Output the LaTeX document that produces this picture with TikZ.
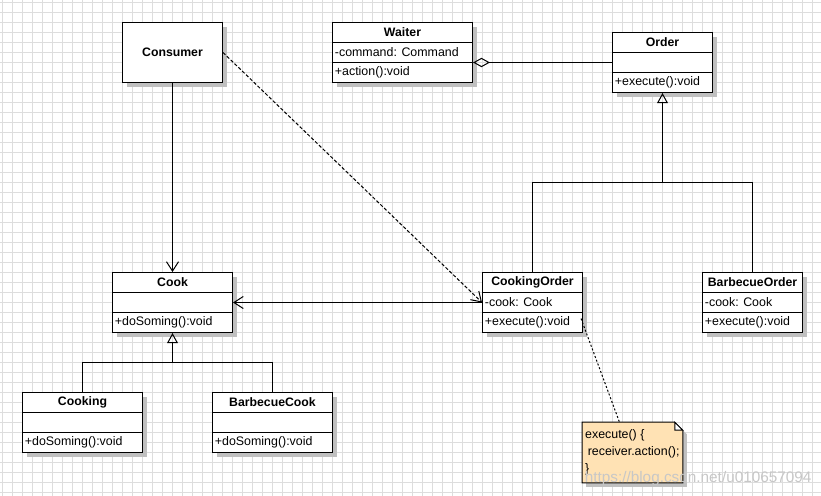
\documentclass[tikz,border=0pt]{standalone}
\usepackage{fontspec}
\setmainfont{Liberation Sans}
\usetikzlibrary{arrows.meta,shadows}
\definecolor{gridgray}{RGB}{221,221,221}
\definecolor{notefill}{RGB}{255,226,180}
\definecolor{shadowgray}{RGB}{192,192,192}

\begin{document}
\begin{tikzpicture}
          [x=0.75pt,y=-0.75pt,
          font=\fontsize{9.3}{11}\selectfont,
          gridline/.style={draw=gridgray,line width=0.75pt},
          cls/.style={draw=black,fill=white,line width=0.75pt,inner sep=0pt,minimum height=45pt,
            drop shadow={shadow xshift=3pt,shadow yshift=-3pt,fill=shadowgray,opacity=1}},
          head/.style={anchor=north,font=\fontsize{9.2}{11}\selectfont\bfseries,minimum height=15pt,inner sep=0pt},
          item/.style={anchor=west,inner sep=0pt,xshift=2pt},
          sep/.style={line width=0.75pt},
          assoc/.style={-{Straight Barb[length=7pt,width=9pt]},line width=0.75pt},
          dep/.style={assoc,dash pattern=on 2.5pt off 1.5pt},
          gen/.style={-{Triangle[open,length=7.5pt,width=8pt]},line width=0.75pt},
          aggr/.style={{Diamond[open,length=12.75pt,width=7pt]}-,line width=0.75pt},
          notebox/.style={fill=notefill,draw=black,line width=0.75pt,
            drop shadow={shadow xshift=3pt,shadow yshift=-3pt,fill=shadowgray,opacity=1}},
          notelink/.style={line width=0.75pt,dash pattern=on 1.5pt off 1.5pt}]

            % background and grid
            \useasboundingbox (-0.5,-0.5) rectangle (820.5,495.5);
            \fill [white] (-0.5,-0.5) rectangle (820.5,495.5);
            \foreach \gx in {2,12,...,822} \draw [gridline] (\gx,-0.5) -- (\gx,495.5);
            \foreach \gy in {2,12,...,492} \draw [gridline] (-0.5,\gy) -- (820.5,\gy);

            \node (consumer) [cls,minimum width=75pt,font=\fontsize{9.2}{11}\selectfont\bfseries] at (172,52) {Consumer};

            \node (waiter) [cls,minimum width=105pt] at (402,52) {};
            \node [head] at (waiter.north) {Waiter};
            \draw [sep] ([yshift=7.5pt]waiter.west) -- ([yshift=7.5pt]waiter.east);
            \draw [sep] ([yshift=-7.5pt]waiter.west) -- ([yshift=-7.5pt]waiter.east);
            \node [item] at (waiter.west) {-command: Command};
            \node [item] at ([yshift=-15pt]waiter.west) {+action():void};

            \node (order) [cls,minimum width=75pt] at (662,62) {};
            \node [head] at (order.north) {Order};
            \draw [sep] ([yshift=7.5pt]order.west) -- ([yshift=7.5pt]order.east);
            \draw [sep] ([yshift=-7.5pt]order.west) -- ([yshift=-7.5pt]order.east);
            \node [item] at ([yshift=-15pt]order.west) {+execute():void};

            \node (cook) [cls,minimum width=90pt] at (172,302) {};
            \node [head] at (cook.north) {Cook};
            \draw [sep] ([yshift=7.5pt]cook.west) -- ([yshift=7.5pt]cook.east);
            \draw [sep] ([yshift=-7.5pt]cook.west) -- ([yshift=-7.5pt]cook.east);
            \node [item] at ([yshift=-15pt]cook.west) {+doSoming():void};

            \node (cookingorder) [cls,minimum width=75pt] at (532,302) {};
            \node [head] at (cookingorder.north) {CookingOrder};
            \draw [sep] ([yshift=7.5pt]cookingorder.west) -- ([yshift=7.5pt]cookingorder.east);
            \draw [sep] ([yshift=-7.5pt]cookingorder.west) -- ([yshift=-7.5pt]cookingorder.east);
            \node [item] at (cookingorder.west) {-cook: Cook};
            \node [item] at ([yshift=-15pt]cookingorder.west) {+execute():void};

            \node (barbecueorder) [cls,minimum width=75pt] at (752,302) {};
            \node [head] at (barbecueorder.north) {BarbecueOrder};
            \draw [sep] ([yshift=7.5pt]barbecueorder.west) -- ([yshift=7.5pt]barbecueorder.east);
            \draw [sep] ([yshift=-7.5pt]barbecueorder.west) -- ([yshift=-7.5pt]barbecueorder.east);
            \node [item] at (barbecueorder.west) {-cook: Cook};
            \node [item] at ([yshift=-15pt]barbecueorder.west) {+execute():void};

            \node (cooking) [cls,minimum width=90pt] at (82,422) {};
            \node [head] at (cooking.north) {Cooking};
            \draw [sep] ([yshift=7.5pt]cooking.west) -- ([yshift=7.5pt]cooking.east);
            \draw [sep] ([yshift=-7.5pt]cooking.west) -- ([yshift=-7.5pt]cooking.east);
            \node [item] at ([yshift=-15pt]cooking.west) {+doSoming():void};

            \node (barbecuecook) [cls,minimum width=90pt] at (272,422) {};
            \node [head] at (barbecuecook.north) {BarbecueCook};
            \draw [sep] ([yshift=7.5pt]barbecuecook.west) -- ([yshift=7.5pt]barbecuecook.east);
            \draw [sep] ([yshift=-7.5pt]barbecuecook.west) -- ([yshift=-7.5pt]barbecuecook.east);
            \node [item] at ([yshift=-15pt]barbecuecook.west) {+doSoming():void};

            % note
            \node (note) [minimum width=75pt,minimum height=45pt,inner sep=0pt] at (632,452) {};
            \filldraw [notebox] (note.north west) -- ([xshift=-6pt]note.north east)
              -- ([yshift=-6pt]note.north east) -- (note.south east) -- (note.south west) -- cycle;
            \filldraw [fill=white,sep] ([xshift=-6pt]note.north east) -- ([xshift=-6pt,yshift=-6pt]note.north east)
              -- ([yshift=-6pt]note.north east) -- cycle;
            \node [item,align=left,font=\fontsize{9.3}{12.75}\selectfont] at (note.west)
              {execute() \{\\\hspace{2pt}receiver.action();\\\}};

          \coordinate (ordersplit) at (662,182);
          \coordinate (cooksplit) at (172,362);

            \draw [assoc] (consumer) -- (cook);
            \draw [dep] (consumer.east) -- (cookingorder.west);
            \draw [assoc] (cookingorder.west) -- (cook.east);
            \draw [aggr] (waiter.east |- order.west) -- (order.west);
            \draw [sep] (cookingorder.north) |- (ordersplit) -| (barbecueorder.north);
            \draw [gen] (ordersplit) -- (order.south);
            \draw [sep] (cooking.north) |- (cooksplit) -| (barbecuecook.north);
            \draw [gen] (cooksplit) -- (cook.south);
            \draw [notelink] ([shift={(-2,16)}]cookingorder.east) -- ([shift={(-13,0)}]note.north);

            \node (watermark) [anchor=west,inner sep=0pt,text=black!22,font=\fontsize{11.5}{12}\selectfont]
              at (584,478) {https://blog.csdn.net/u010657094};

        \end{tikzpicture}
\end{document}
